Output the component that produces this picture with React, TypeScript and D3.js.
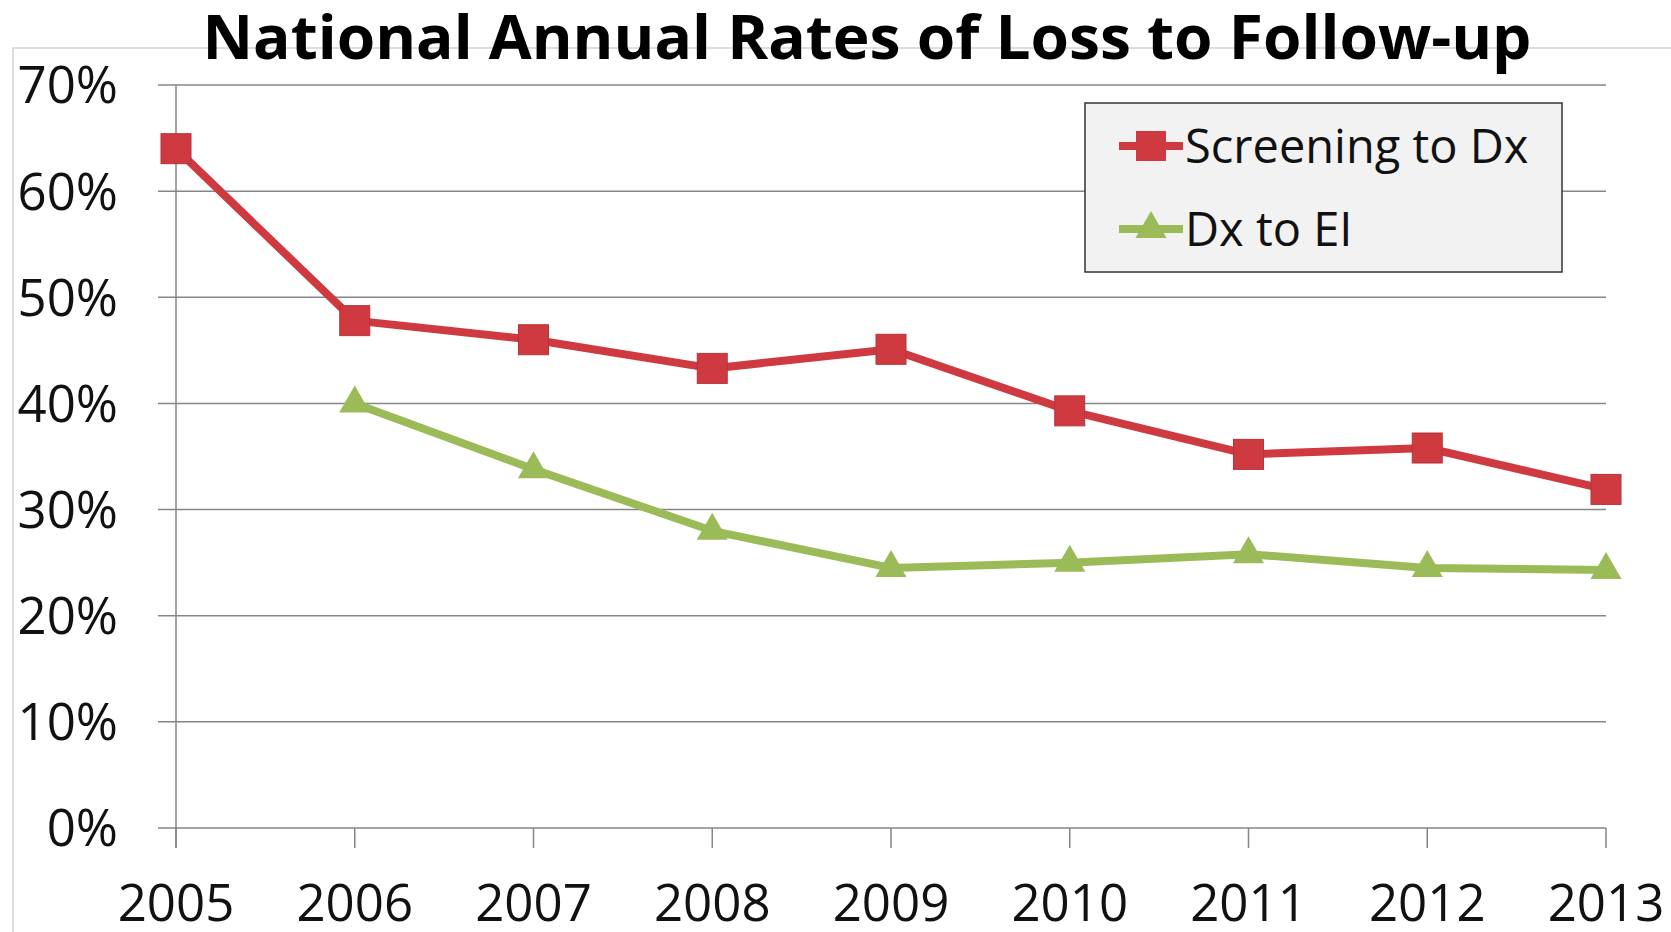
import React, { useEffect, useRef } from "react";
import * as d3 from "d3";

const years = ["2005", "2006", "2007", "2008", "2009", "2010", "2011", "2012", "2013"];
const screeningToDx = [0.64, 0.478, 0.46, 0.433, 0.451, 0.393, 0.352, 0.358, 0.319];
const dxToEI = [null, 0.4, 0.338, 0.28, 0.245, 0.25, 0.258, 0.245, 0.243];
const yTicks = [0, 0.1, 0.2, 0.3, 0.4, 0.5, 0.6, 0.7];
const title = "National Annual Rates of Loss to Follow-up";

const W = 1671;
const H = 932;
const RED = "#cf3a40";
const GREEN = "#9bbb59";
const FONT = "'Open Sans', sans-serif";

export default function App() {
  const ref = useRef<SVGSVGElement>(null);

  useEffect(() => {
    const svg = d3.select(ref.current);
    svg.selectAll("*").remove();

    const x = d3.scalePoint().domain(years).range([176, 1606]);
    const y = d3.scaleLinear().domain([0, 0.7]).range([828, 85]);

    // outer chart border
    svg
      .append("path")
      .attr("d", `M13,${H} L13,48 L${W},48`)
      .attr("fill", "none")
      .attr("stroke", "#d4d4d4")
      .attr("stroke-width", 1.5);

    // gridlines
    svg
      .append("g")
      .selectAll("line")
      .data(yTicks)
      .join("line")
      .attr("x1", 158)
      .attr("x2", x("2013")!)
      .attr("y1", (d) => y(d))
      .attr("y2", (d) => y(d))
      .attr("stroke", "#868686")
      .attr("stroke-width", 1.5);

    // y axis line
    svg
      .append("line")
      .attr("x1", 176)
      .attr("x2", 176)
      .attr("y1", y(0.7))
      .attr("y2", y(0) + 20)
      .attr("stroke", "#868686")
      .attr("stroke-width", 1.5);

    // x ticks
    svg
      .append("g")
      .selectAll("line")
      .data(years)
      .join("line")
      .attr("x1", (d) => x(d)!)
      .attr("x2", (d) => x(d)!)
      .attr("y1", y(0))
      .attr("y2", y(0) + 20)
      .attr("stroke", "#868686")
      .attr("stroke-width", 1.5);

    // y labels
    svg
      .append("g")
      .selectAll("text")
      .data(yTicks)
      .join("text")
      .attr("x", 118)
      .attr("y", (d) => y(d))
      .attr("dy", "0.36em")
      .attr("text-anchor", "end")
      .attr("font-family", FONT)
      .attr("font-size", 51)
      .attr("fill", "#111")
      .text((d) => `${Math.round(d * 100)}%`);

    // x labels
    svg
      .append("g")
      .selectAll("text")
      .data(years)
      .join("text")
      .attr("x", (d) => x(d)!)
      .attr("y", 921)
      .attr("text-anchor", "middle")
      .attr("font-family", FONT)
      .attr("font-size", 51)
      .attr("fill", "#111")
      .text((d) => d);

    const line = d3
      .line<any>()
      .defined((d) => d.v != null)
      .x((d) => x(d.year)!)
      .y((d) => y(d.v));

    const red = years.map((year, i) => ({ year, v: screeningToDx[i] }));
    const green = years.map((year, i) => ({ year, v: dxToEI[i] }));

    svg
      .append("path")
      .datum(green)
      .attr("fill", "none")
      .attr("stroke", GREEN)
      .attr("stroke-width", 8)
      .attr("stroke-linejoin", "round")
      .attr("d", line);
    const tri = d3.symbol().type(d3.symbolTriangle).size(420);
    svg
      .append("g")
      .selectAll("path")
      .data(green.filter((d) => d.v != null))
      .join("path")
      .attr("transform", (d) => `translate(${x(d.year)},${y(d.v!)})`)
      .attr("d", tri)
      .attr("fill", GREEN);

    svg
      .append("path")
      .datum(red)
      .attr("fill", "none")
      .attr("stroke", RED)
      .attr("stroke-width", 8)
      .attr("stroke-linejoin", "round")
      .attr("d", line);
    svg
      .append("g")
      .selectAll("rect")
      .data(red)
      .join("rect")
      .attr("x", (d) => x(d.year)! - 15)
      .attr("y", (d) => y(d.v) - 15)
      .attr("width", 30)
      .attr("height", 30)
      .attr("fill", RED)
      .attr("stroke", "#b8323a")
      .attr("stroke-width", 1);

    // legend
    const lg = svg.append("g");
    lg.append("rect")
      .attr("x", 1085)
      .attr("y", 103)
      .attr("width", 477)
      .attr("height", 169)
      .attr("fill", "#f2f2f2")
      .attr("stroke", "#333")
      .attr("stroke-width", 1.5);
    const items = [
      { label: "Screening to Dx", color: RED, cy: 146, kind: "square" },
      { label: "Dx to EI", color: GREEN, cy: 229, kind: "tri" },
    ];
    items.forEach((it) => {
      lg.append("line")
        .attr("x1", 1119)
        .attr("x2", 1183)
        .attr("y1", it.cy)
        .attr("y2", it.cy)
        .attr("stroke", it.color)
        .attr("stroke-width", 8);
      if (it.kind === "square") {
        lg.append("rect")
          .attr("x", 1151 - 15)
          .attr("y", it.cy - 15)
          .attr("width", 30)
          .attr("height", 30)
          .attr("fill", it.color);
      } else {
        lg.append("path")
          .attr("transform", `translate(1151,${it.cy})`)
          .attr("d", tri)
          .attr("fill", it.color);
      }
      lg.append("text")
        .attr("x", 1185)
        .attr("y", it.cy)
        .attr("dy", "0.36em")
        .attr("font-family", FONT)
        .attr("font-size", 47)
        .attr("fill", "#111")
        .text(it.label);
    });

    // title
    svg
      .append("text")
      .attr("x", 867)
      .attr("y", 59)
      .attr("text-anchor", "middle")
      .attr("font-family", FONT)
      .attr("font-weight", "bold")
      .attr("font-size", 60)
      .attr("textLength", 1329)
      .attr("lengthAdjust", "spacingAndGlyphs")
      .attr("fill", "#000")
      .text(title);
  }, []);

  return (
    <svg
      ref={ref}
      width={W}
      height={H}
      style={{ position: "absolute", left: 0, top: 0, background: "#fff" }}
    />
  );
}
